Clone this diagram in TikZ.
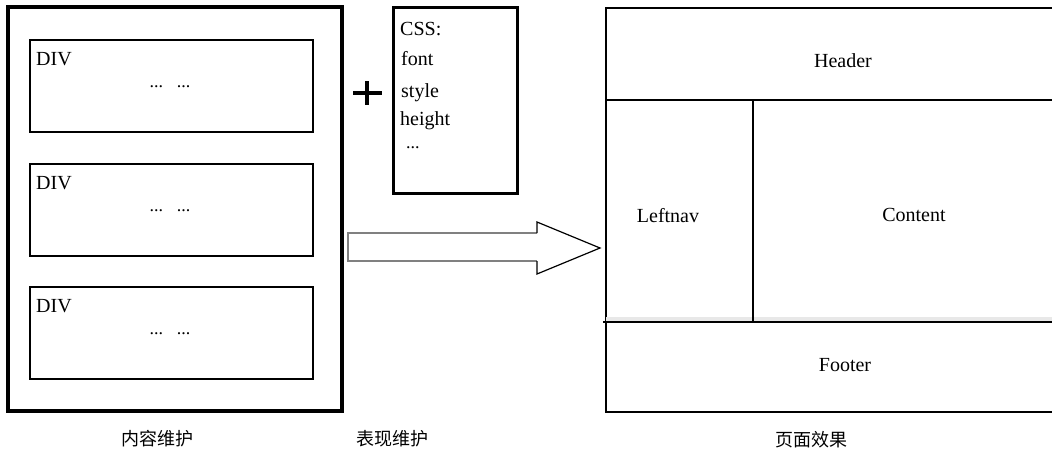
\documentclass[tikz,border=0pt]{standalone}
\usepackage{fontspec}
\setmainfont{Liberation Serif}
\newfontfamily\cjk{Noto Sans CJK SC}
\begin{document}
\begin{tikzpicture}[x=1pt,y=-1pt,
  box/.style={draw=black,anchor=north west,inner sep=0pt,outer sep=0pt},
  lbl/.style={font=\fontsize{20}{24}\selectfont,inner sep=0pt},
  dotstxt/.style={font=\fontsize{18}{20}\selectfont,inner sep=0pt,anchor=base},
  captxt/.style={font=\cjk\fontsize{18}{22}\selectfont,inner sep=0pt}]
\useasboundingbox[fill=white] (0,0) rectangle (1052,455);
% content box
\node[box,line width=4pt,minimum width=334pt,minimum height=404pt] (outer) at (8,7) {};
\node[box,line width=1.4pt,minimum width=283pt,minimum height=92pt] (div1) at (30,40) {};
\node[box,line width=1.4pt,minimum width=283pt,minimum height=92pt] (div2) at (30,164) {};
\node[box,line width=1.4pt,minimum width=283pt,minimum height=92pt] (div3) at (30,287) {};
\node[lbl,anchor=base west] (t1) at (36,65) {DIV};
\node[lbl,anchor=base west] (t2) at (36,189) {DIV};
\node[lbl,anchor=base west] (t3) at (36,312) {DIV};
\node[dotstxt] (d1) at (170,87) {...\hspace{14pt}...};
\node[dotstxt] (d2) at (170,211) {...\hspace{14pt}...};
\node[dotstxt] (d3) at (170,334) {...\hspace{14pt}...};
% plus
\coordinate (pl) at (353,93); \coordinate (pr) at (382,93);
\coordinate (pt) at (367,81); \coordinate (pb) at (367,105);
\draw[line width=4.5pt] (pl) -- (pr);
\draw[line width=4.5pt] (pt) -- (pb);
% css box
\node[box,line width=3pt,minimum width=124pt,minimum height=186pt] (css) at (393,7) {};
\node[lbl,anchor=base west] (c1) at (400,35) {CSS:};
\node[lbl,anchor=base west] (c2) at (401,65) {font};
\node[lbl,anchor=base west] (c3) at (401,97) {style};
\node[lbl,anchor=base west] (c4) at (400,125) {height};
\node[dotstxt,anchor=base west] (c5) at (406,148) {...};
% arrow
\coordinate (a1) at (348,233); \coordinate (a2) at (537,233);
\coordinate (a3) at (537,222); \coordinate (a4) at (600,248);
\coordinate (a5) at (537,274); \coordinate (a6) at (537,261);
\coordinate (a7) at (348,261);
\fill[white] (a1) -- (a2) -- (a3) -- (a4) -- (a5) -- (a6) -- (a7) -- cycle;
\draw[gray,line width=2pt] (a2) -- (a1) -- (a7) -- (a6);
\draw[black,line width=1.2pt] (a2) -- (a3) -- (a4) -- (a5) -- (a6);
% page layout
\node[box,line width=2pt,minimum width=460pt,minimum height=404pt] (page) at (606,8) {};
\fill[black!9] (606,317) rectangle (1052,320.5);
\coordinate (hl) at (606,100); \coordinate (hr) at (1060,100);
\draw[line width=1.8pt] (hl) -- (hr);
\coordinate (fl) at (603,322); \coordinate (fr) at (1060,322);
\draw[line width=1.8pt] (fl) -- (fr);
\coordinate (vt) at (753,100); \coordinate (vb) at (753,323);
\draw[line width=2pt] (vt) -- (vb);
\node[lbl] (header) at (843,61) {Header};
\node[lbl] (leftnav) at (668,216) {Leftnav};
\node[lbl] (contentt) at (914,215) {Content};
\node[lbl] (footer) at (845,365) {Footer};
% captions
\node[captxt] (k1) at (157,439) {内容维护};
\node[captxt] (k2) at (392,439) {表现维护};
\node[captxt] (k3) at (811,440) {页面效果};
\end{tikzpicture}
\end{document}
